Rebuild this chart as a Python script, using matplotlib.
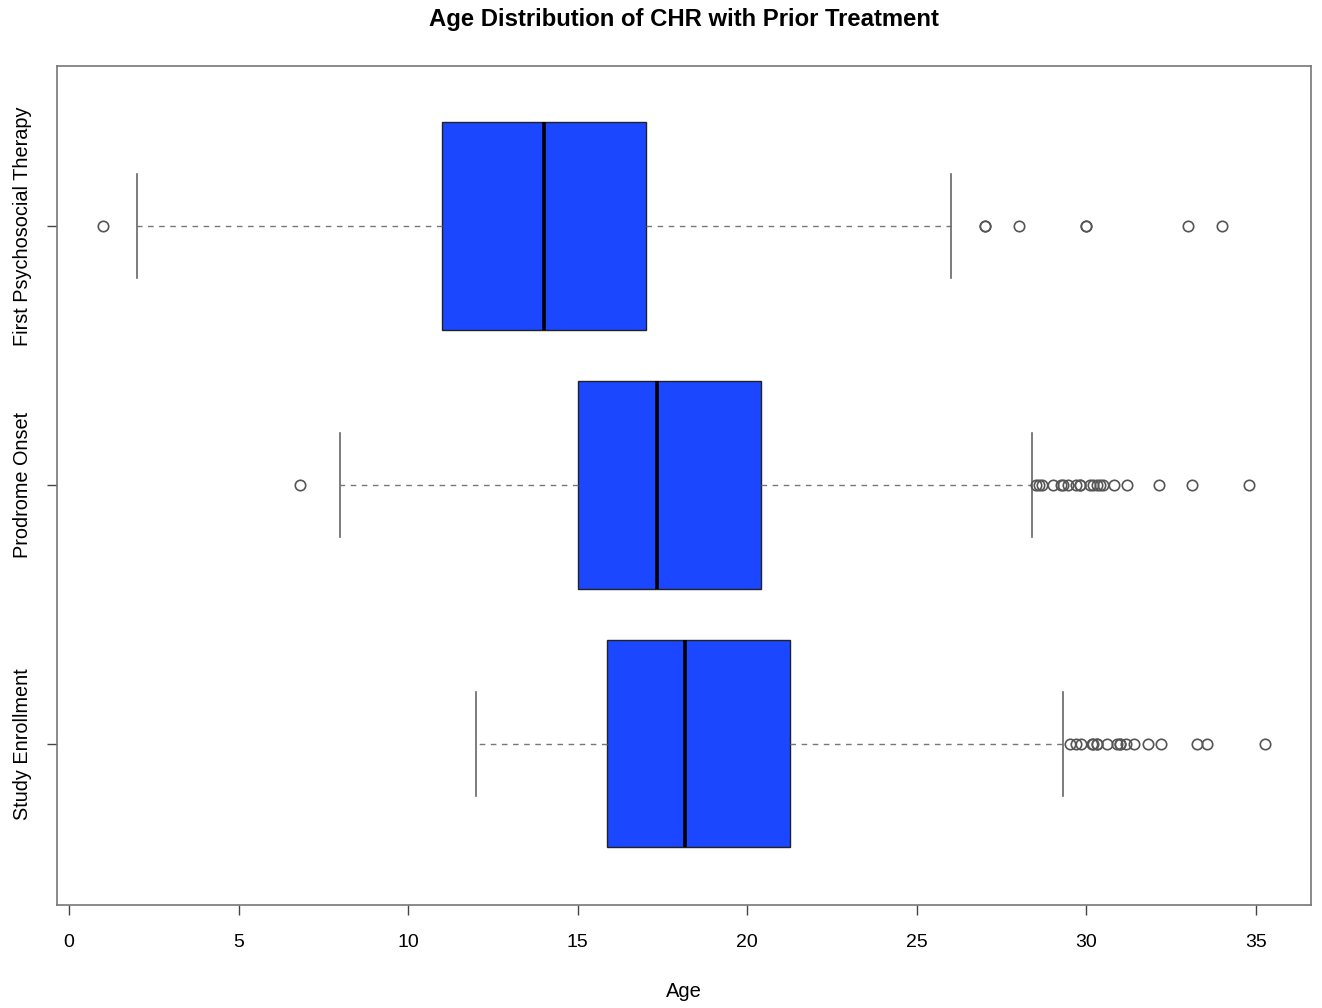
import matplotlib
matplotlib.use("Agg")
import matplotlib.pyplot as plt

plt.rcParams['font.family'] = ['Liberation Sans', 'DejaVu Sans']

categories = ["Study Enrollment", "Prodrome Onset", "First Psychosocial Therapy"]
whislo = [12.0, 8.0, 2.0]
q1 = [15.85, 15.0, 11.0]
med = [18.15, 17.35, 14.0]
q3 = [21.25, 20.4, 17.0]
whishi = [29.3, 28.4, 26.0]
fliers = [
    [29.5, 29.7, 29.85, 30.15, 30.2, 30.3, 30.3, 30.6, 30.9, 31.0, 31.0, 31.15,
     31.4, 31.8, 32.2, 33.25, 33.55, 35.27],
    [6.8, 28.5, 28.6, 28.7, 29.0, 29.25, 29.3, 29.45, 29.7, 29.8, 29.8, 30.1,
     30.2, 30.3, 30.4, 30.5, 30.8, 31.2, 32.15, 33.1, 34.8],
    [1.0, 27.0, 27.0, 28.0, 30.0, 30.0, 33.0, 34.0],
]
xticks = [0, 5, 10, 15, 20, 25, 30, 35]

fig = plt.figure(figsize=(13.22, 10.08), dpi=100)
ax = fig.add_axes([0.0431, 0.1022, 0.9486, 0.8323])

stats = []
for i in range(len(categories)):
    stats.append(dict(label=categories[i], whislo=whislo[i], q1=q1[i], med=med[i],
                      q3=q3[i], whishi=whishi[i], fliers=fliers[i]))

ax.bxp(stats, positions=[1, 2, 3], widths=0.8, capwidths=0.4,
       orientation='horizontal', patch_artist=True,
       boxprops=dict(facecolor='#1A47FF', edgecolor='#222222', linewidth=1.0),
       medianprops=dict(color='black', linewidth=2.6, solid_capstyle='butt'),
       whiskerprops=dict(color='#777777', linewidth=1.0, linestyle=(0, (4, 4))),
       capprops=dict(color='#666666', linewidth=1.2),
       flierprops=dict(marker='o', markerfacecolor='none', markeredgecolor='#555555',
                       markersize=7.5, markeredgewidth=1.2))

ax.set_xlim(-0.354, 36.62)
ax.set_ylim(0.378, 3.618)
ax.set_xticks(xticks)
ax.set_xticklabels([str(t) for t in xticks], fontsize=14)
ax.set_yticks([1, 2, 3])
ax.set_yticklabels(categories, rotation=90, va='center', fontsize=14.3)
ax.tick_params(axis='x', direction='out', length=7, width=1, color='#444444', pad=14)
ax.tick_params(axis='y', direction='out', length=7, width=1, color='#444444', pad=11)
for s in ax.spines.values():
    s.set_color('#777777')
    s.set_linewidth(1.2)

ax.set_xlabel("Age", fontsize=14.5, labelpad=22)
fig.text(0.5175, 0.981, "Age Distribution of CHR with Prior Treatment",
         ha='center', va='center', fontsize=17.2, fontweight='bold')

fig.savefig("out.png", dpi=100)
